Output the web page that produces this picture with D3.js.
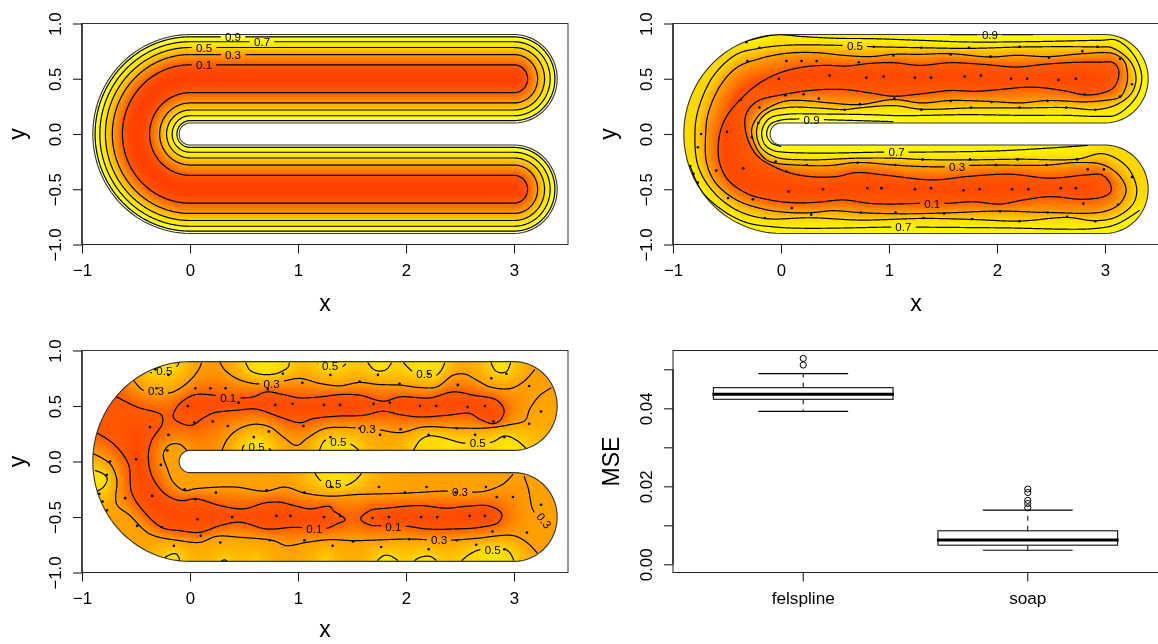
<!DOCTYPE html>
<html><head><meta charset="utf-8">
<style>html,body{margin:0;padding:0;background:#fff}svg{display:block;filter:blur(0.3px)}</style>
<script src="https://cdn.jsdelivr.net/npm/d3@7"></script></head><body>
<script>
// ---------- values (data units) ----------
const xTicks=[-1,0,1,2,3];
const yTicks=[-1,-0.5,0,0.5,1];
const levels=[0.1,0.3,0.5,0.7,0.9];
// panel 1: the true surface is a profile over distance from the strip's centre line
const panel1Offsets=[0.126,0.219,0.283,0.335,0.379];
const panel1LabelX=[0.13,0.398,0.13,0.667,0.398];
const profileD=[0,0.05,0.126,0.219,0.283,0.335,0.379,0.4];
const profileZ=[0,0.016,0.1,0.3,0.5,0.7,0.9,1];
// heat colour key
const heatZ=[0,0.1,0.3,0.5,0.7,0.85,1];
const heatC=["#ff4000","#ff5a00","#ffa000","#ffd800","#fff500","#ffff40","#ffffd0"];
// sample locations shared by panels 2 and 3
const samples=[[-.32,.83],[-.20,.78],[-.31,.66],[.05,.66],[.19,.66],[.33,.66],[.72,.65],[1.04,.71],[.86,.79],[-.02,.50],[.45,.53],[.79,.51],[.95,.52],[1.24,.51],[.04,.35],[.21,.36],[.35,.32],[1.05,.32],[-.37,.31],[-.20,.24],[.73,.27],[.59,.22],[-.21,.10],[-.50,.02],[-.27,-.03],[-.74,0],[-.77,-.12],[-.05,-.25],[.24,-.28],[.71,-.26],[1.06,-.28],[.05,-.34],[-.84,-.29],[-.81,-.36],[-.60,-.33],[-.35,-.31],[-.77,-.44],[-.49,-.58],[-.26,-.59],[.07,-.52],[.39,-.50],[.80,-.49],[.93,-.49],[1.24,-.50],[.10,-.67],[.28,-.73],[.74,-.71],[1.06,-.71],[-.15,-.76],
[1.30,.78],[1.57,.72],[1.74,.78],[2.21,.79],[1.94,.70],[2.48,.69],[2.79,.75],[2.93,.79],[3.14,.68],[1.39,.51],[1.70,.52],[1.85,.53],[2.13,.50],[2.28,.50],[2.57,.49],[2.73,.50],[3.25,.45],[2.81,.36],[3.14,.34],[1.57,.30],[1.95,.29],[2.47,.30],[1.30,.22],[1.76,.24],[2.21,.24],[2.64,.24],[2.91,.22],
[1.31,-.23],[1.75,-.23],[2.19,-.23],[2.74,-.23],[1.99,-.28],[2.46,-.28],[2.84,-.32],[2.99,-.32],[3.25,-.39],[1.39,-.49],[1.69,-.51],[1.84,-.50],[2.14,-.50],[2.29,-.50],[2.59,-.49],[2.73,-.49],[2.80,-.63],[3.12,-.64],[1.51,-.72],[2.03,-.70],[2.47,-.71],[1.32,-.76],[1.77,-.77],[2.21,-.79],[2.65,-.75],[2.91,-.79]];
// panel 2 contours: [level, closed, points]
const panel2Contours=[
[0.1,true,[[-.577,-.219],[-.565,.009],[-.503,.16],[-.374,.315],[-.195,.463],[-.009,.554],[.207,.606],[.423,.621],[.608,.615],[.824,.639],[1.04,.645],[1.287,.621],[1.565,.645],[1.874,.63],[2.182,.606],[2.429,.63],[2.645,.645],[2.954,.651],[3.077,.645],[3.124,.584],[3.124,.509],[3.077,.418],[2.954,.366],[2.815,.354],[2.645,.387],[2.429,.418],[2.275,.424],[2.028,.403],[1.812,.387],[1.565,.393],[1.318,.366],[1.04,.342],[.824,.372],[.577,.403],[.299,.397],[.021,.357],[-.219,.297],[-.318,.191],[-.334,.069],[-.287,-.097],[-.195,-.219],[.052,-.343],[.268,-.385],[.515,-.385],[.70,-.349],[.947,-.37],[1.411,-.416],[1.719,-.385],[2.12,-.364],[2.491,-.40],[2.83,-.37],[2.969,-.37],[3.046,-.446],[3.053,-.522],[2.985,-.567],[2.80,-.591],[2.491,-.567],[2.244,-.597],[2.028,-.634],[1.781,-.613],[1.534,-.628],[1.287,-.628],[1.009,-.634],[.824,-.628],[.577,-.597],[.33,-.618],[.114,-.622],[-.102,-.597],[-.318,-.537],[-.503,-.40]]],
[0.3,true,[[-.698,0],[-.673,.19],[-.565,.433],[-.411,.60],[-.201,.681],[.052,.73],[.33,.736],[.577,.712],[.824,.70],[1.04,.721],[1.287,.721],[1.565,.727],[1.935,.697],[2.182,.712],[2.475,.70],[2.80,.727],[3.077,.727],[3.176,.66],[3.207,.554],[3.20,.448],[3.139,.336],[2.985,.303],[2.815,.291],[2.472,.303],[2.213,.281],[1.951,.294],[1.565,.303],[1.303,.281],[1.04,.312],[.725,.266],[.453,.281],[.207,.303],[.037,.297],[-.102,.245],[-.201,.175],[-.272,.039],[-.226,-.128],[-.133,-.234],[-.047,-.264],[.24,-.285],[.453,-.285],[.707,-.258],[1.061,-.282],[1.287,-.294],[1.503,-.297],[1.75,-.285],[1.997,-.282],[2.46,-.282],[2.738,-.258],[2.985,-.279],[3.139,-.385],[3.195,-.506],[3.139,-.628],[2.985,-.703],[2.46,-.71],[2.028,-.697],[1.509,-.715],[1.102,-.722],[.74,-.712],[.484,-.694],[.278,-.712],[.099,-.712],[-.151,-.682],[-.411,-.597],[-.602,-.446],[-.688,-.264]]],
[0.5,true,[[-.797,0],[-.766,.221],[-.627,.524],[-.411,.721],[-.201,.775],[.052,.803],[.515,.803],[.855,.79],[1.287,.781],[1.744,.775],[2.213,.787],[2.645,.79],[2.932,.787],[3.062,.781],[3.232,.66],[3.287,.509],[3.247,.372],[3.108,.266],[2.923,.221],[2.639,.239],[2.213,.236],[1.762,.236],[1.303,.224],[1.046,.257],[.725,.236],[.589,.221],[.33,.236],[.083,.242],[-.102,.206],[-.201,.115],[-.226,-.006],[-.179,-.128],[-.047,-.21],[.24,-.234],[.707,-.219],[1.061,-.219],[1.306,-.231],[1.75,-.234],[2.188,-.228],[2.738,-.228],[2.985,-.179],[3.201,-.294],[3.293,-.491],[3.262,-.628],[3.108,-.749],[2.911,-.785],[2.648,-.755],[2.207,-.788],[1.769,-.773],[1.321,-.764],[.74,-.779],[.278,-.758],[-.151,-.764],[-.411,-.688],[-.627,-.522],[-.766,-.294]]],
[0.7,false,[[-.334,.836],[-.056,.897],[.207,.881],[.515,.866],[.824,.863],[1.287,.848],[1.719,.833],[2.337,.836],[2.954,.848],[3.108,.848],[3.262,.721],[3.34,.524],[3.293,.342],[3.108,.175],[2.923,.16],[2.645,.169],[2.213,.169],[1.719,.175],[1.102,.166],[.824,.175],[.361,.181],[.052,.178],[-.102,.145],[-.164,.069],[-.179,-.006],[-.148,-.097],[-.071,-.149],[.021,-.164],[.361,-.173],[.947,-.164],[1.195,-.164],[2.028,-.152],[2.846,-.103]]],
[0.7,false,[[-.843,-.285],[-.719,-.537],[-.38,-.779],[-.04,-.843],[1.009,-.843],[1.256,-.843],[2.028,-.849],[2.911,-.855],[3.108,-.816],[3.324,-.688]]],
[0.9,false,[[1.565,.90],[1.935,.90],[2.337,.90]]],
[0.9,false,[[1.04,.112],[.392,.13],[.16,.136],[-.009,.124],[-.102,.084],[-.133,-.006],[-.087,-.082],[.006,-.113]]]
];
const panel2Labels=[[0.1,1.40,-.628],[0.3,1.63,-.295],[0.5,.685,.796],[0.7,1.07,-.164],[0.7,1.133,-.843],[0.9,1.935,.90],[0.9,.284,.13]];
// panel 3 contours: [level, closed, points]
const panel3Contours=[
[0.5,false,[[-.371,.799],[-.309,.808],[-.238,.814],[-.17,.832],[-.118,.862],[-.102,.892]]],
[0.3,false,[[-.519,.727],[-.433,.642],[-.315,.633],[-.186,.618],[-.031,.703],[.077,.823],[.108,.892]]],
[0.3,false,[[.277,.892],[.324,.823],[.432,.748],[.586,.703],[.756,.703],[.864,.724],[1.018,.748],[1.203,.703],[1.389,.682],[1.568,.712],[1.744,.694],[1.945,.688],[2.13,.666],[2.284,.672],[2.439,.778],[2.547,.787],[2.655,.733],[2.778,.672],[2.963,.657],[3.087,.718],[3.195,.832]]],
[0.5,false,[[.515,.892],[.555,.823],[.648,.787],[.802,.793],[.91,.853],[.919,.892]]],
[0.5,false,[[1.179,.883],[1.297,.862],[1.405,.853],[1.445,.883]]],
[0.5,false,[[1.645,.892],[1.698,.832],[1.76,.814],[1.821,.832],[1.868,.892]]],
[0.5,false,[[1.976,.892],[2.068,.808],[2.17,.793],[2.253,.763],[2.321,.814],[2.361,.892]]],
[0.5,false,[[2.787,.892],[2.824,.823],[2.88,.799],[2.933,.814],[2.969,.892]]],
[0.1,true,[[-.155,.401],[-.108,.507],[.031,.597],[.169,.603],[.354,.573],[.478,.573],[.586,.582],[.709,.627],[.864,.603],[1.018,.573],[1.203,.582],[1.389,.603],[1.574,.597],[1.79,.543],[1.945,.582],[2.223,.573],[2.439,.627],[2.624,.597],[2.84,.552],[2.908,.462],[2.871,.371],[2.809,.341],[2.685,.38],[2.593,.432],[2.377,.416],[2.13,.401],[1.945,.422],[1.79,.453],[1.605,.416],[1.389,.41],[1.142,.386],[1.018,.35],[.833,.401],[.617,.471],[.432,.462],[.216,.437],[.123,.392],[.015,.326],[-.093,.35]]],
[0.3,false,[[.293,.091],[.339,.191],[.432,.281],[.586,.335],[.74,.311],[.864,.221],[.987,.145],[1.08,.206],[1.203,.281],[1.297,.305],[1.559,.302],[1.645,.296],[1.729,.29],[1.945,.26],[2.161,.311],[2.469,.302],[2.747,.302],[2.963,.332],[3.102,.371],[3.148,.477],[3.241,.597],[3.349,.666]]],
[0.5,false,[[.484,.091],[.5,.145],[.617,.13],[.734,.115],[.756,.091]]],
[0.3,false,[[-.016,.085],[-.093,.154],[-.186,.151],[-.247,.07],[-.21,-.065],[-.155,-.186],[-.053,-.261],[.046,-.246],[.247,-.231],[.432,-.231],[.694,-.267],[.879,-.231],[1.064,-.285],[1.297,-.312],[1.559,-.297],[1.991,-.285],[2.377,-.267],[2.5,-.276],[2.577,-.276],[2.732,-.267],[2.902,-.201],[2.994,-.111]]],
[0.5,false,[[1.157,-.105],[1.209,-.171],[1.327,-.201],[1.435,-.216],[1.528,-.171],[1.59,-.105]]],
[0.1,false,[[-.679,.582],[-.494,.492],[-.263,.416],[-.257,.341],[-.355,.191],[-.386,.055],[-.355,-.126],[-.232,-.291],[-.093,-.352],[.061,-.337],[.277,-.397],[.493,-.427],[.694,-.373],[.833,-.367],[.987,-.403],[1.11,-.427],[1.296,-.406],[1.327,-.442],[1.435,-.523],[1.358,-.563],[1.266,-.602],[1.151,-.602],[.956,-.593],[.709,-.608],[.463,-.547],[.277,-.578],[.092,-.638],[-.093,-.623],[-.263,-.593],[-.448,-.427],[-.541,-.276],[-.571,-.02],[-.71,.16],[-.865,.26]]],
[0.1,true,[[1.581,-.517],[1.667,-.442],[1.821,-.421],[2.13,-.397],[2.377,-.421],[2.562,-.403],[2.778,-.403],[2.886,-.472],[2.855,-.548],[2.686,-.593],[2.439,-.608],[2.192,-.608],[2.013,-.584],[1.883,-.584],[1.775,-.578],[1.667,-.572]]],
[0.3,false,[[-.895,.07],[-.741,-.02],[-.679,-.156],[-.679,-.382],[-.556,-.487],[-.371,-.653],[-.093,-.713],[.092,-.728],[.246,-.674],[.463,-.683],[.771,-.713],[.895,-.758],[1.08,-.728],[1.297,-.704],[1.513,-.713],[2.022,-.698],[2.192,-.704],[2.306,-.707],[2.454,-.707],[2.655,-.692],[2.994,-.668],[3.118,-.728],[3.216,-.825]]],
[0.3,false,[[3.093,-.132],[3.133,-.246],[3.179,-.442],[3.278,-.532],[3.349,-.593]]],
[0.5,false,[[-.232,-.864],[-.17,-.834],[-.124,-.834],[-.093,-.894]]],
[0.5,false,[[.287,-.903],[.317,-.885],[.348,-.903]]],
[0.5,false,[[1.735,-.894],[1.79,-.849],[1.852,-.849],[1.929,-.894]]],
[0.5,false,[[2.077,-.894],[2.13,-.864],[2.223,-.855],[2.284,-.894]]],
[0.5,false,[[2.516,-.894],[2.577,-.843],[2.686,-.794],[2.803,-.794],[2.911,-.788],[2.963,-.824],[3.0,-.894]]],
[0.5,false,[[-.88,-.08],[-.803,-.111],[-.766,-.156],[-.803,-.231],[-.865,-.27]]],
[0.5,false,[[2.068,.097],[2.13,.191],[2.207,.23],[2.315,.221],[2.531,.166],[2.664,.17],[2.794,.175],[2.917,.23],[3.025,.191],[3.124,.106]]],
[0.5,false,[[1.198,.097],[1.25,.19],[1.374,.176],[1.488,.157],[1.565,.10]]]
];
const panel3Labels=[[0.5,-.238,.814],[0.3,-.315,.633],[0.3,.756,.703],[0.1,.354,.573],[0.3,1.645,.296],[0.5,.617,.13],[0.3,2.5,-.276],[0.5,1.327,-.201],[0.5,1.297,.862],[0.5,2.17,.793],[0.1,1.151,-.602],[0.1,1.883,-.584],[0.3,2.306,-.707],[0.3,3.278,-.532,52],[0.5,2.803,-.794],[0.5,2.664,.17],[0.5,1.374,.176]];
// surface read-offs between the contours (drawn as colour only)
const panel2Ridge=[[[3.0,.5],[2,.5],[1,.52],[0,.52],[-.35,.38],[-.5,.1],[-.52,-.2],[-.4,-.45],[0,-.5],[1,-.5],[2,-.5],[2.9,-.5]]];
const panel3Ridge=[[[-.05,.5],[.4,.52],[.9,.5],[1.4,.5],[2,.52],[2.6,.5],[2.8,.42]],[[-.5,.25],[-.46,-.15],[-.2,-.47],[.2,-.5],[.7,-.5],[1.25,-.51]],[[1.75,-.5],[2.3,-.5],[2.8,-.47]]];
const panel3Highs=[[.7,.86,.6],[1.3,.88,.6],[1.76,.87,.6],[2.17,.86,.6],[2.88,.86,.6],[.62,.14,.6],[1.37,.13,.6],[2.4,.15,.6],[2.95,.15,.6],[-.23,.86,.6],[-.83,-.17,.6],[1.35,-.14,.6],[2.8,-.84,.6],[-.17,-.87,.6],[1.82,-.88,.6],[2.18,-.88,.6],[.6,-.88,.44],[1.25,-.88,.46]];
// boxplot summary
const boxNames=["felspline","soap"];
const boxQ1=[.0423,.0049],boxMedian=[.0436,.0062],boxQ3=[.0453,.0086],boxLow=[.0392,.0036],boxHigh=[.0489,.0139];
const boxOutliers=[[.0528,.0511],[.0193,.0184,.0164,.0156,.0145]];
const mseTicks=[0,.01,.02,.03,.04,.05];
const mseLabels=[0,.02,.04];

// ---------- set-up ----------
const W=1158,H=644,FONT='"Liberation Sans",Arimo,Helvetica,sans-serif';
const TICKFONT=16.8,TITLEFONT=23;
const svg=d3.select('body').append('svg').attr('width',W).attr('height',H).attr('viewBox',[0,0,W,H]).style('font-family',FONT);
const heat=d3.scaleLinear(heatZ,heatC).clamp(true);
const profile=d3.scaleLinear(profileD,profileZ).clamp(true);
const fmtTick=v=>String(v).replace('-','\u2212');
function stripD(x,y){
  if(x<0) return Math.hypot(x,y)-.5;
  if(x>3) return Math.hypot(x-3,Math.abs(y)-.5);
  return Math.abs(y)-.5;
}
const inside=(x,y)=>Math.abs(stripD(x,y))<=.4;
function loop(d){ // closed curve at distance d from the centre line
  const p=[],A=d3.range(90,270.1,3).map(a=>a*Math.PI/180),C=d3.range(-90,90.1,6).map(a=>a*Math.PI/180);
  A.forEach(a=>p.push([(.5+d)*Math.cos(a),(.5+d)*Math.sin(a)]));
  C.forEach(a=>p.push([3+d*Math.cos(a),-.5+d*Math.sin(a)]));
  A.slice().reverse().forEach(a=>p.push([(.5-d)*Math.cos(a),(.5-d)*Math.sin(a)]));
  C.forEach(a=>p.push([3+d*Math.cos(a),.5+d*Math.sin(a)]));
  p.push(p[0]);return p;
}
function resample(pts,closed,sx,sy,curve){
  const line=d3.line().x(d=>sx(d[0])).y(d=>sy(d[1])).curve(curve?(closed?d3.curveCatmullRomClosed.alpha(.5):d3.curveCatmullRom.alpha(.5)):d3.curveLinear);
  const t=svg.append('path').attr('d',line(pts)),n=t.node(),L=n.getTotalLength(),out=[];
  for(let s=0;s<=L;s+=.5){const q=n.getPointAtLength(s);out.push([q.x,q.y]);}
  t.remove();return out;
}
function yAxisStyle(a,sx0){
  a.select('.domain').remove();
  a.selectAll('text').attr('transform','rotate(-90)').attr('x',0).attr('y',-21).attr('dy',0).attr('text-anchor','middle').attr('font-size',TICKFONT).attr('font-family',FONT);
  a.selectAll('line').attr('stroke','#222').attr('stroke-width',1.1);
}
function frame(g,sx,sy,xt,yt){
  g.append('rect').attr('x',sx.range()[0]).attr('y',sy.range()[1]).attr('width',sx.range()[1]-sx.range()[0]).attr('height',sy.range()[0]-sy.range()[1]).attr('fill','none').attr('stroke','#333');
  g.append('g').attr('transform',`translate(0,${sy.range()[0]})`)
   .call(d3.axisBottom(sx).tickValues(xt).tickFormat(fmtTick).tickSize(9).tickSizeOuter(0))
   .call(a=>{a.select('.domain').remove();a.selectAll('text').attr('y',31.5).attr('dy',0).attr('font-size',TICKFONT).attr('font-family',FONT);a.selectAll('line').attr('stroke','#222').attr('stroke-width',1.1);});
  g.append('g').attr('transform',`translate(${sx.range()[0]},0)`)
   .call(d3.axisLeft(sy).tickValues(yt).tickFormat(v=>fmtTick(v.toFixed(1))).tickSize(9).tickSizeOuter(0))
   .call(yAxisStyle);
  g.append('line').attr('x1',sx.range()[0]).attr('x2',sx.range()[0]).attr('y1',sy(yt[0])).attr('y2',sy(yt[yt.length-1])).attr('stroke','#222').attr('stroke-width',1.4);
  g.append('line').attr('x1',sx(xt[0])).attr('x2',sx(xt[xt.length-1])).attr('y1',sy.range()[0]).attr('y2',sy.range()[0]).attr('stroke','#222').attr('stroke-width',1.2);
}
function titles(g,sx,sy,xt,yt,xy){
  const mx=(sx.range()[0]+sx.range()[1])/2,my=(sy.range()[0]+sy.range()[1])/2;
  if(xt) g.append('text').attr('x',mx).attr('y',xy).attr('text-anchor','middle').attr('font-size',TITLEFONT).text(xt);
  g.append('text').attr('transform',`translate(${sx.range()[0]-57},${my}) rotate(-90)`).attr('text-anchor','middle').attr('font-size',TITLEFONT).text(yt);
}
function paintRaster(g,sx,sy,zAt){
  const x0=Math.round(sx.range()[0]),x1=Math.round(sx.range()[1]),y0=Math.round(sy.range()[1]),y1=Math.round(sy.range()[0]);
  const w=x1-x0,h=y1-y0,c=document.createElement('canvas');c.width=w;c.height=h;
  const ctx=c.getContext('2d'),im=ctx.createImageData(w,h);
  for(let j=0;j<h;j++)for(let i=0;i<w;i++){
    const x=sx.invert(x0+i+.5),y=sy.invert(y0+j+.5);
    if(!inside(x,y))continue;
    const col=d3.rgb(heat(zAt(x,y))),k=4*(j*w+i);
    im.data[k]=col.r;im.data[k+1]=col.g;im.data[k+2]=col.b;im.data[k+3]=255;
  }
  ctx.putImageData(im,0,0);
  g.append('image').attr('x',x0).attr('y',y0).attr('width',w).attr('height',h).attr('href',c.toDataURL());
}
// colour surface that passes through the contours
function surfaceFrom(lines,ridges,highs,sx,sy){
  const step=.01,nx=451,ny=201,id=(i,j)=>j*nx+i;
  const Z=new Float64Array(nx*ny).fill(.4),fixed=new Uint8Array(nx*ny),mask=new Uint8Array(nx*ny);
  for(let j=0;j<ny;j++)for(let i=0;i<nx;i++) if(inside(-1+i*step,-1+j*step)) mask[id(i,j)]=1;
  const pin=(x,y,v)=>{const i=Math.round((x+1)/step),j=Math.round((y+1)/step);if(i<0||j<0||i>=nx||j>=ny)return;const k=id(i,j);if(mask[k]){Z[k]=v;fixed[k]=1;}};
  lines.forEach(l=>l.s.forEach(q=>pin(sx.invert(q[0]),sy.invert(q[1]),l.level)));
  ridges.forEach(r=>resample(r,false,sx,sy,true).forEach(q=>pin(sx.invert(q[0]),sy.invert(q[1]),.03)));
  highs.forEach(h=>{for(let a=-3;a<=3;a++)for(let b=-3;b<=3;b++)if(a*a+b*b<=9)pin(h[0]+a*step,h[1]+b*step,h[2]);});
  const free=[];for(let k=0;k<nx*ny;k++) if(mask[k]&&!fixed[k]) free.push(k);
  const nb=[-1,1,-nx,nx];
  for(let it=0;it<900;it++) for(const k of free){
    let s=0,c=0;for(const o of nb){const m=k+o;if(mask[m]){s+=Z[m];c++;}}
    if(c) Z[k]+=1.85*(s/c-Z[k]);
  }
  for(let pass=0;pass<6;pass++){ // soften
    const T=Z.slice();
    for(let j=1;j<ny-1;j++)for(let i=1;i<nx-1;i++){const k=id(i,j);if(!mask[k])continue;let s=0,c=0;
      for(let b=-1;b<=1;b++)for(let a=-1;a<=1;a++){const m=k+a+b*nx;if(mask[m]){s+=T[m];c++;}}
      Z[k]=s/c;}
  }
  for(let pass=0;pass<2;pass++){ // extend past the edge for lookup
    const T=Z.slice(),M=mask.slice();
    for(let j=1;j<ny-1;j++)for(let i=1;i<nx-1;i++){const k=id(i,j);if(M[k])continue;let s=0,c=0;
      for(let b=-1;b<=1;b++)for(let a=-1;a<=1;a++){const m=k+a+b*nx;if(M[m]){s+=T[m];c++;}}
      if(c){Z[k]=s/c;mask[k]=1;}}
  }
  return (x,y)=>{const u=(x+1)/step,v=(y+1)/step,i=Math.floor(u),j=Math.floor(v),a=u-i,b=v-j;
    return Z[id(i,j)]*(1-a)*(1-b)+Z[id(i+1,j)]*a*(1-b)+Z[id(i,j+1)]*(1-a)*b+Z[id(i+1,j+1)]*a*b;};
}
function drawLines(g,lines,labels,sx,sy,clipId){
  const gaps=labels.map(l=>({level:l[0],x:sx(l[1]),y:sy(l[2]),rot:l[3]||0}));
  const lg=g.append('g').attr('clip-path',clipId?`url(#${clipId})`:null);
  const segLine=d3.line();
  lines.forEach(l=>{
    const mine=gaps.filter(q=>q.level===l.level);let segs=[],cur=[];
    l.s.forEach(p=>{
      const hit=mine.some(q=>{
        const dx=p[0]-q.x,dy=p[1]-q.y,r=q.rot*Math.PI/180;
        const ux=dx*Math.cos(r)+dy*Math.sin(r),uy=-dx*Math.sin(r)+dy*Math.cos(r);
        return Math.abs(ux)<12&&Math.abs(uy)<5;});
      if(hit){if(cur.length>1)segs.push(cur);cur=[];}else cur.push(p);
    });
    if(cur.length>1)segs.push(cur);
    lg.append('path').attr('d',segs.map(s=>segLine(s)).join('')).attr('fill','none').attr('stroke','#000').attr('stroke-width',1.2);
  });
  g.selectAll('text.clabel').data(gaps).join('text').attr('class','clabel')
    .attr('transform',d=>`translate(${d.x},${d.y}) rotate(${d.rot})`).attr('dy','.36em').attr('text-anchor','middle').attr('font-size',11.6)
    .text(d=>d.level.toFixed(1));
}
function edge(g,sx,sy){
  g.append('path').attr('d',d3.line().x(d=>sx(d[0])).y(d=>sy(d[1]))(loop(.4))).attr('fill','none').attr('stroke','#333').attr('stroke-width',1.1);
}
function dots(g,sx,sy){
  g.selectAll('circle.s').data(samples).join('circle').attr('class','s').attr('cx',d=>sx(d[0])).attr('cy',d=>sy(d[1])).attr('r',1.3).attr('fill','#000');
}
function clip(id,sx,sy){
  svg.append('clipPath').attr('id',id).append('path').attr('d',d3.line().x(d=>sx(d[0])).y(d=>sy(d[1]))(loop(.4)));
}

// ---------- panel 1 ----------
{const sx=d3.scaleLinear([-1,3.5],[82,568]),sy=d3.scaleLinear([-1,1],[244.5,23.5]),g=svg.append('g');
 paintRaster(g,sx,sy,(x,y)=>profile(Math.abs(stripD(x,y))));
 edge(g,sx,sy);
 const lines=levels.map((lv,i)=>({level:lv,s:resample(loop(panel1Offsets[i]),false,sx,sy,false)}));
 const labels=levels.map((lv,i)=>[lv,panel1LabelX[i],.5+panel1Offsets[i]]);
 drawLines(g,lines,labels,sx,sy);
 frame(g,sx,sy,xTicks,yTicks);titles(g,sx,sy,'x','y',311);}
// ---------- panel 2 ----------
{const sx=d3.scaleLinear([-1,3.5],[673,1159]),sy=d3.scaleLinear([-1,1],[244.5,23.5]),g=svg.append('g');
 const lines=panel2Contours.map(c=>({level:c[0],s:resample(c[2],c[1],sx,sy,true)}));
 paintRaster(g,sx,sy,surfaceFrom(lines,panel2Ridge,[],sx,sy));
 edge(g,sx,sy);clip('c2',sx,sy);
 drawLines(g,lines,panel2Labels,sx,sy,'c2');dots(g,sx,sy);
 frame(g,sx,sy,xTicks,yTicks);titles(g,sx,sy,'x','y',311);}
// ---------- panel 3 ----------
{const sx=d3.scaleLinear([-1,3.5],[82,568]),sy=d3.scaleLinear([-1,1],[572.5,350.5]),g=svg.append('g');
 const lines=panel3Contours.map(c=>({level:c[0],s:resample(c[2],c[1],sx,sy,true)}));
 paintRaster(g,sx,sy,surfaceFrom(lines,panel3Ridge,panel3Highs,sx,sy));
 edge(g,sx,sy);clip('c3',sx,sy);
 drawLines(g,lines,panel3Labels,sx,sy,'c3');dots(g,sx,sy);
 frame(g,sx,sy,xTicks,yTicks);titles(g,sx,sy,'x','y',637);}
// ---------- panel 4 ----------
{const sx=d3.scaleLinear([.42,2.58],[673,1158]),sy=d3.scaleLinear([0,.05],[564.3,369.3]),g=svg.append('g');
 const bottom=572.5,top=350.5,hw=sx(.4)-sx(0),sw=hw/2,pos=i=>sx(i+1);
 g.append('rect').attr('x',673).attr('y',top).attr('width',486).attr('height',bottom-top).attr('fill','none').attr('stroke','#222');
 boxNames.forEach((nm,i)=>{
   const c=pos(i),b=g.append('g');
   [[boxQ3[i],boxHigh[i]],[boxQ1[i],boxLow[i]]].forEach(w=>b.append('line').attr('x1',c).attr('x2',c).attr('y1',sy(w[0])).attr('y2',sy(w[1])).attr('stroke','#000').attr('stroke-dasharray','5,5'));
   [boxHigh[i],boxLow[i]].forEach(v=>b.append('line').attr('x1',c-sw).attr('x2',c+sw).attr('y1',sy(v)).attr('y2',sy(v)).attr('stroke','#000').attr('stroke-width',1.15));
   b.append('rect').attr('x',c-hw).attr('width',2*hw).attr('y',sy(boxQ3[i])).attr('height',sy(boxQ1[i])-sy(boxQ3[i])).attr('fill','none').attr('stroke','#222').attr('stroke-width',1.2);
   b.append('line').attr('x1',c-hw-1).attr('x2',c+hw+1).attr('y1',sy(boxMedian[i])).attr('y2',sy(boxMedian[i])).attr('stroke','#000').attr('stroke-width',3);
   b.selectAll('circle').data(boxOutliers[i]).join('circle').attr('cx',c).attr('cy',d=>sy(d)).attr('r',3.1).attr('fill','none').attr('stroke','#000').attr('stroke-width',1);
   g.append('line').attr('x1',c).attr('x2',c).attr('y1',bottom).attr('y2',bottom+9).attr('stroke','#222').attr('stroke-width',1.1);
   g.append('text').attr('x',c).attr('y',604).attr('text-anchor','middle').attr('font-size',TICKFONT+.4).text(nm);
 });
 g.append('g').attr('transform','translate(673,0)')
  .call(d3.axisLeft(sy).tickValues(mseTicks).tickFormat(v=>mseLabels.includes(v)?v.toFixed(2):'').tickSize(9).tickSizeOuter(0))
  .call(yAxisStyle);
 g.append('line').attr('x1',673).attr('x2',673).attr('y1',sy(0)).attr('y2',sy(.05)).attr('stroke','#222').attr('stroke-width',1.4);
 g.append('text').attr('transform',`translate(619,${(top+bottom)/2}) rotate(-90)`).attr('text-anchor','middle').attr('font-size',TITLEFONT).text('MSE');}
</script></body></html>
